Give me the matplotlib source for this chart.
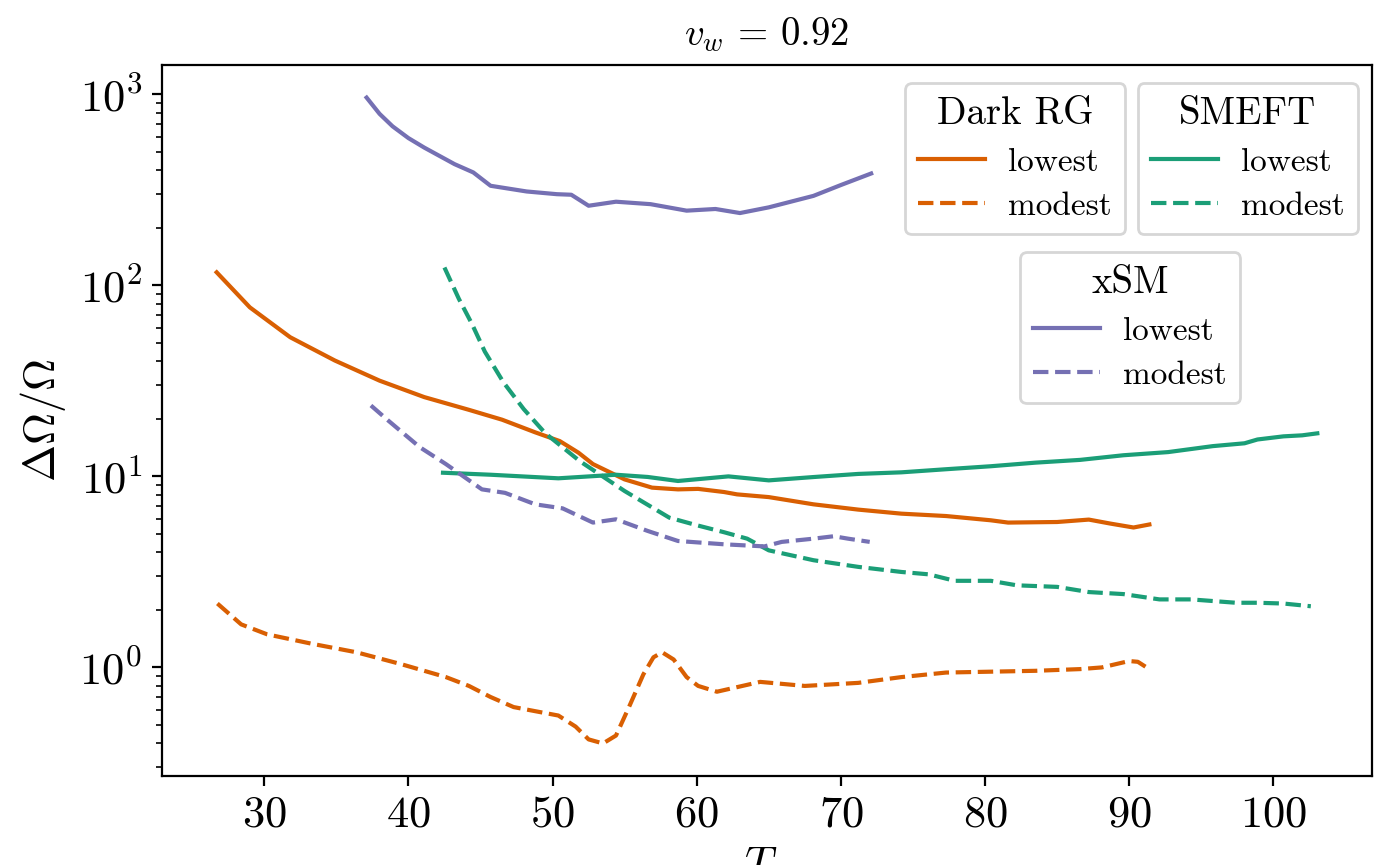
import matplotlib
matplotlib.use("Agg")
import matplotlib.pyplot as plt
from matplotlib.lines import Line2D

plt.rcParams['font.family'] = 'serif'
plt.rcParams['font.serif'] = ['cmr10', 'DejaVu Serif']
plt.rcParams['mathtext.fontset'] = 'cm'
plt.rcParams['axes.formatter.use_mathtext'] = True

# ---- data ----
darkrg_low_T = [26.7, 29.0, 31.8, 34.9, 38.0, 41.1, 44.2, 46.5, 48.8, 50.5, 51.8, 52.8, 55.0, 56.9,
                58.7, 60.1, 61.9, 62.8, 65.0, 68.1, 71.2, 74.2, 77.3, 80.4, 81.6, 85.0, 87.2, 88.7,
                90.3, 91.4]
darkrg_low = [117, 76.7, 53.5, 40.4, 31.7, 26.0, 22.3, 19.8, 17.0, 15.3, 13.3, 11.6, 9.64, 8.73,
              8.55, 8.6, 8.28, 8.05, 7.79, 7.14, 6.70, 6.38, 6.2, 5.89, 5.73, 5.77, 5.94, 5.66,
              5.4, 5.6]

darkrg_mod_T = [26.75, 28.4, 30.2, 33.3, 36.4, 39.5, 42.6, 44.2, 45.7, 47.3, 48.8, 50.4, 51.6,
                52.5, 53.5, 54.4, 55.3, 56.3, 57.0, 57.6, 58.4, 59.3, 60.1, 61.4, 64.4, 67.5,
                71.2, 74.2, 77.3, 80.4, 83.5, 86.6, 88.1, 90.0, 90.6, 91.3]
darkrg_mod = [2.16, 1.68, 1.49, 1.33, 1.2, 1.04, 0.89, 0.80, 0.70, 0.62, 0.59, 0.56, 0.49,
              0.42, 0.40, 0.44, 0.62, 0.92, 1.13, 1.2, 1.10, 0.89, 0.80, 0.746, 0.84, 0.80,
              0.83, 0.89, 0.94, 0.95, 0.96, 0.98, 1.0, 1.08, 1.07, 0.99]

smeft_low_T = [42.4, 45.7, 50.4, 54.4, 56.6, 58.7, 62.2, 65.0, 68.1, 71.2, 74.2, 77.3, 80.4,
               83.5, 86.6, 89.6, 92.7, 95.8, 98.0, 98.9, 100.7, 102.0, 103.05]
smeft_low = [10.45, 10.2, 9.77, 10.2, 9.93, 9.46, 10.0, 9.53, 9.92, 10.3, 10.5, 10.9, 11.3,
             11.8, 12.2, 12.9, 13.4, 14.4, 14.9, 15.6, 16.2, 16.4, 16.8]

smeft_mod_T = [42.5, 43.5, 44.4, 45.3, 46.6, 48.0, 49.5, 51.9, 55.0, 58.1, 60.0, 61.9, 63.5,
               65.0, 68.1, 71.2, 74.2, 76.1, 77.9, 80.4, 82.2, 85.0, 87.2, 89.6, 92.1, 94.3,
               97.4, 98.9, 100.7, 102.6]
smeft_mod = [124, 85, 63, 45, 31, 22.5, 16.8, 12.0, 8.38, 6.08, 5.55, 5.1, 4.72,
             4.1, 3.64, 3.36, 3.16, 3.07, 2.84, 2.84, 2.69, 2.64, 2.48, 2.42, 2.27, 2.27,
             2.18, 2.18, 2.16, 2.09]

xsm_low_T = [37.1, 38.0, 38.9, 40.0, 41.1, 43.2, 44.5, 45.7, 48.2, 50.3, 51.3, 52.5, 54.4, 56.8,
             59.3, 61.3, 63.0, 65.0, 68.1, 70.0, 72.1]
xsm_low = [961, 790, 680, 590, 526, 431, 390, 332, 310, 300, 298, 261, 274, 266,
           246, 251, 239, 256, 294, 335, 385]

xsm_mod_T = [37.4, 38.6, 40.8, 42.6, 45.1, 46.7, 48.8, 50.7, 52.8, 54.4, 56.6, 58.7, 61.9,
             64.7, 65.9, 68.1, 69.5, 70.5, 72.0]
xsm_mod = [23.5, 19.6, 14.2, 11.6, 8.55, 8.2, 7.14, 6.8, 5.73, 5.96, 5.18, 4.59, 4.41,
           4.3, 4.54, 4.72, 4.86, 4.72, 4.54]

model_names = ["Dark RG", "SMEFT", "xSM"]
case_labels = ["lowest", "modest"]
colors = ["#d95f02", "#1b9e77", "#7570b3"]

fig = plt.figure(figsize=(6.89, 4.325), dpi=200)
ax = fig.add_axes([0.1173, 0.1032, 0.8786, 0.8213])

series = [
    (darkrg_low_T, darkrg_low, darkrg_mod_T, darkrg_mod),
    (smeft_low_T, smeft_low, smeft_mod_T, smeft_mod),
    (xsm_low_T, xsm_low, xsm_mod_T, xsm_mod),
]
for (tl, vl, tm, vm), c in zip(series, colors):
    ax.plot(tl, vl, color=c, lw=1.5, ls='-')
    ax.plot(tm, vm, color=c, lw=1.5, ls='--')

ax.set_yscale('log')
ax.set_title(r'$v_w\,=\,0.92$', fontsize=14, pad=7)
ax.set_ylabel(r'$\Delta\Omega/\Omega$', fontsize=16)
ax.set_xlabel(r'$T_*$', fontsize=16)
ax.tick_params(labelsize=16)

anchors = [('upper left', (0.614, 0.975)),
           ('upper right', (0.988, 0.975)),
           ('upper left', (0.709, 0.737))]
legs = []
for name, c, (loc, anc) in zip(model_names, colors, anchors):
    handles = [Line2D([], [], color=c, lw=1.5, ls='-'),
               Line2D([], [], color=c, lw=1.5, ls='--')]
    leg = ax.legend(handles, case_labels, title=name, loc=loc, bbox_to_anchor=anc,
                    borderaxespad=0, fontsize=12, title_fontsize=14,
                    handlelength=2.0, handletextpad=0.7, labelspacing=0.45)
    legs.append(leg)
for leg in legs[:-1]:
    ax.add_artist(leg)

fig.savefig("out.png", dpi=200)
